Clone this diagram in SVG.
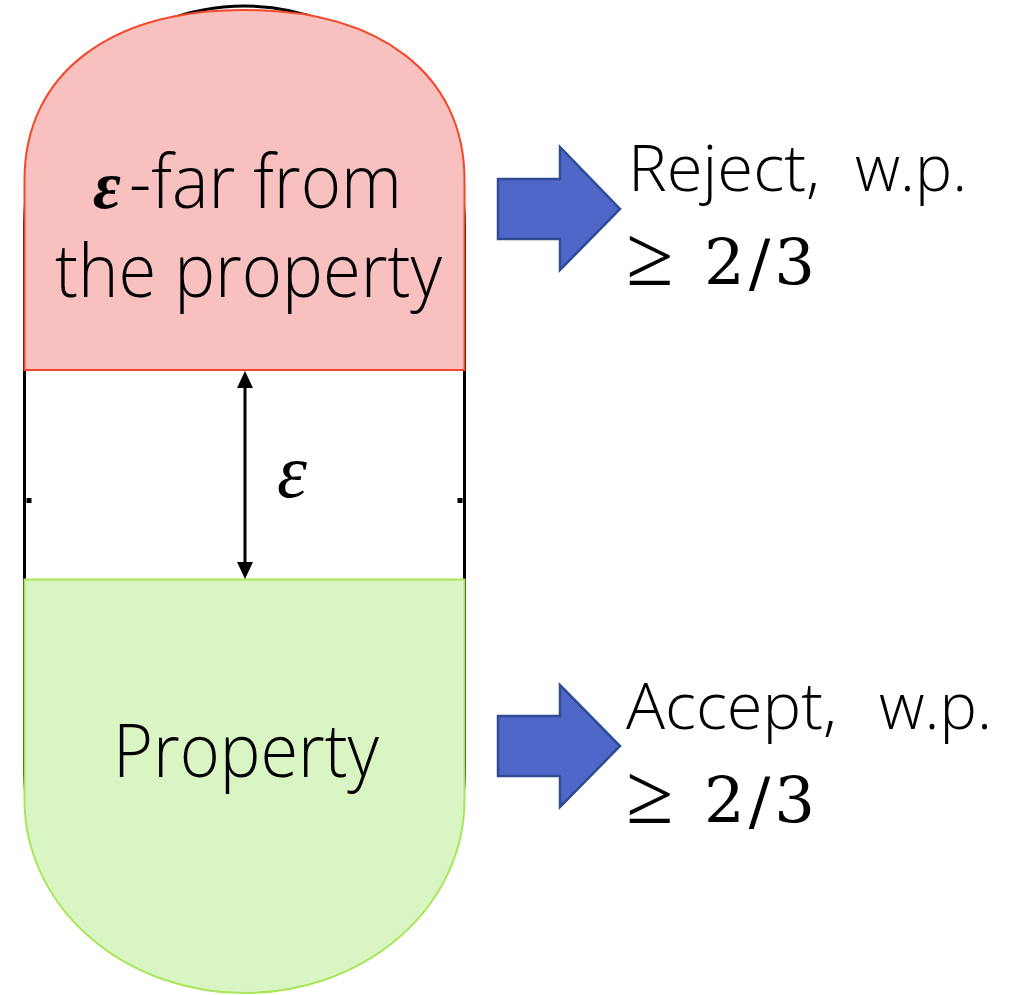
<svg xmlns="http://www.w3.org/2000/svg" width="1025" height="995" viewBox="0 0 1025 995">
<style>
.lbl{font-family:"Open Sans","Liberation Sans",sans-serif;font-weight:300;fill:#000}
.math{font-family:"Liberation Serif","DejaVu Serif",serif;fill:#000}
.num{font-family:"DejaVu Serif","Liberation Serif",serif;fill:#000}
.blk{fill:#4F67C9;stroke:#2F4B94;stroke-width:2.5;stroke-linejoin:miter}
.head{fill:#000}
</style>
<rect width="1025" height="995" fill="#fff"/>
<g id="outline">
<path d="M24.5,770 L24.5,225.5 A220,219.5 0 0 1 464.5,225.5 L464.5,770 A220,219.5 0 0 1 24.5,770 Z" fill="none" stroke="#000" stroke-width="3"/>
<rect x="26.5" y="498" width="5" height="5" fill="#000"/>
<rect x="457.5" y="498" width="5" height="5" fill="#000"/>
</g>
<g id="far">
<path d="M24.5,370 L24.5,180 C24.5,75 108,10 244.5,10 C381,10 464.5,75 464.5,180 L464.5,370 Z" fill="#F8C0BE" stroke="#F4472A" stroke-width="2"/>
<text x="93" y="208"><tspan class="math" font-size="68" font-weight="bold" font-style="italic">ε</tspan><tspan class="lbl" x="129" font-size="74" textLength="273" lengthAdjust="spacingAndGlyphs">-far from</tspan><tspan class="lbl" x="55" y="297" font-size="74" textLength="387" lengthAdjust="spacingAndGlyphs">the property</tspan></text>
</g>
<g id="property">
<path d="M24.5,579.5 L464.5,579.5 L464.5,800 A220,193 0 0 1 24.5,800 Z" fill="#D9F5C3" stroke="#A8E65A" stroke-width="2"/>
<text class="lbl" x="113" y="777" font-size="74" textLength="266" lengthAdjust="spacingAndGlyphs">Property</text>
</g>
<g id="connectors">
<line x1="245" y1="384" x2="245" y2="566" stroke="#000" stroke-width="3"/>
<path class="head" d="M245,371 L237,388 L253,388 Z"/>
<path class="head" d="M245,579 L237,562 L253,562 Z"/>
<path class="blk" d="M498,179 L560,179 L560,147 L620,209 L560,270 L560,239 L498,239 Z"/>
<path class="blk" d="M498,716 L560,716 L560,685 L620,746 L560,807 L560,776 L498,776 Z"/>
</g>
<g id="eps">
<text class="math" x="277" y="497" font-size="76" font-style="italic">ε</text>
</g>
<g id="reject">
<text class="lbl" x="628" y="191" font-size="65"><tspan textLength="192" lengthAdjust="spacingAndGlyphs">Reject,</tspan> <tspan x="855" textLength="112" lengthAdjust="spacingAndGlyphs">w.p.</tspan></text>
<text class="math" x="626" y="285" font-size="86">≥ <tspan class="num" x="704" font-size="64" letter-spacing="4">2/3</tspan></text>
</g>
<g id="accept">
<text class="lbl" x="626" y="729" font-size="65"><tspan textLength="211" lengthAdjust="spacingAndGlyphs">Accept,</tspan> <tspan x="879" textLength="113" lengthAdjust="spacingAndGlyphs">w.p.</tspan></text>
<text class="math" x="626" y="823" font-size="86">≥ <tspan class="num" x="704" font-size="64" letter-spacing="4">2/3</tspan></text>
</g>
</svg>
